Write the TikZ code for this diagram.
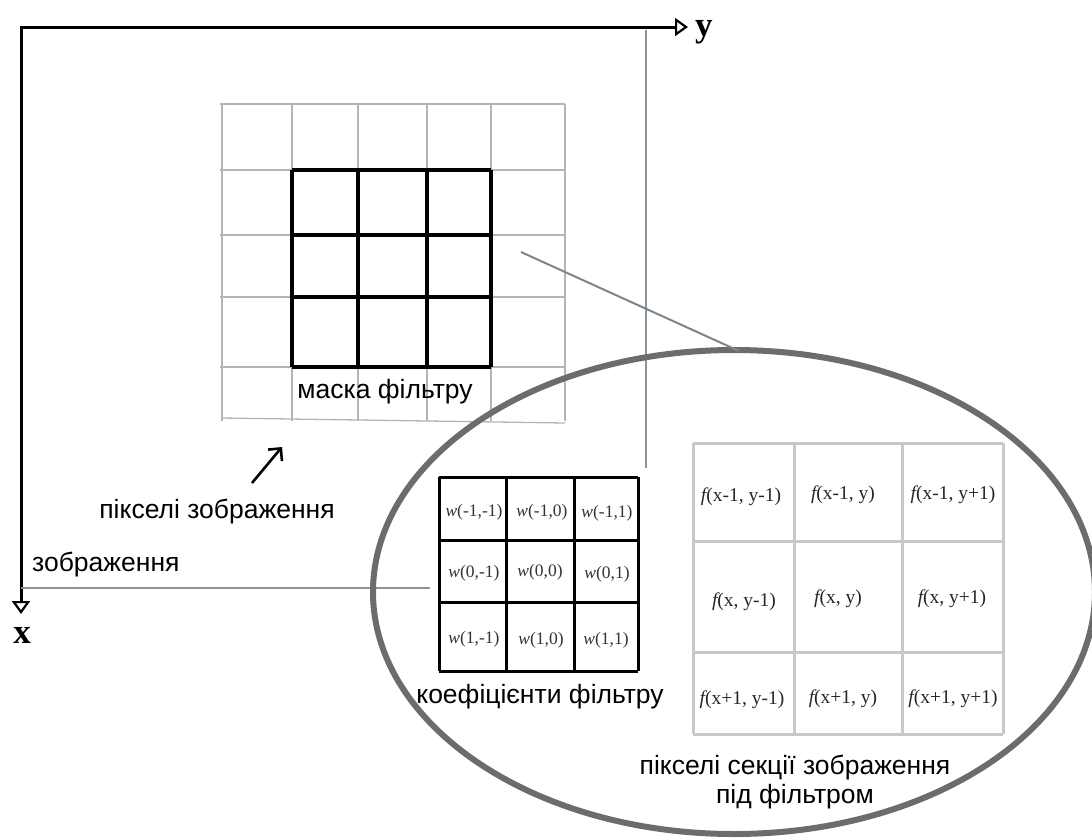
\documentclass[tikz,border=0pt]{standalone}
\usepackage{fontspec}
\setmainfont{Liberation Sans}
\newfontfamily\tms{Liberation Serif}
\usetikzlibrary{arrows.meta}
\definecolor{guidegray}{HTML}{8A949C}
\definecolor{thingrid}{HTML}{B4B4B4}
\definecolor{pixgrid}{HTML}{C8C8C8}
\definecolor{lensgray}{HTML}{6C6C6C}
\begin{document}
\begin{tikzpicture}[x=1pt,y=-1pt,
  lbl/.style={font=\fontsize{26.5}{29}\selectfont, inner sep=0pt, align=center},
  coef/.style={font=\tms\fontsize{17.5}{20}\selectfont, text=black!80, inner sep=0pt},
  fval/.style={font=\tms\fontsize{19.5}{22}\selectfont, text=black!85, inner sep=0pt},
  axislbl/.style={font=\tms\bfseries\fontsize{35}{36}\selectfont, inner sep=0pt},
  axisline/.style={line width=3pt, -{Triangle[open,length=13pt,width=18pt,line width=2.2pt]}},
  guide/.style={draw=guidegray, line width=2pt},
  thin/.style={draw=thingrid, line width=1.3pt},
  maskline/.style={draw=black, line width=3.5pt},
  coefline/.style={draw=black, line width=3pt},
  pixline/.style={draw=pixgrid, line width=3pt},
  lens/.style={draw=lensgray, line width=6pt}
]
\useasboundingbox (0,0) rectangle (1092,839);
\clip (0,0) rectangle (1092,839);

% axes
\coordinate (O) at (21,27);
\coordinate (yend) at (688,27);
\coordinate (xend) at (21,614);
\draw[axisline, line cap=rect] (O) -- (yend);
\draw[axisline] (O) -- (xend);
\node[axislbl, anchor=base west] (ylab) at (695,36) {y};
\node[axislbl, anchor=base] (xlab) at (22,643) {x};

% image pixel grid
\foreach \r in {104,170,235,297,367} \draw[thin] (220,\r) -- (565,\r);
\draw[thin] (222,418) -- (565,423);
\foreach \c in {222,292,358,427,491,565} \draw[thin] (\c,104) -- (\c,421);

% filter mask
\foreach \r in {170,235,297,367} \draw[maskline] (292,\r) -- (491,\r);
\foreach \c in {292,358,427,491} \draw[maskline] (\c,170) -- (\c,367);
\node[lbl] (masklbl) at (385,392) {маска фільтру};

% pointer to image pixels
\coordinate (ptail) at (252,483);
\coordinate (ptip) at (282,447);
\draw[line width=2.6pt, -{Straight Barb[length=9pt,width=18pt,line width=2.6pt]}] (ptail) -- (ptip);
\node[lbl] (pixlbl) at (217,512) {пікселі зображення};
\node[lbl, anchor=west] (imglbl) at (32,565) {зображення};

% guide lines
\coordinate (gv1) at (646,30);
\coordinate (gv2) at (646,468);
\draw[guide] (gv1) -- (gv2);
\coordinate (gh1) at (21,588);
\coordinate (gh2) at (430,588);
\draw[guide] (gh1) -- (gh2);

% magnifying lens
\draw[lens] (734,592) ellipse [x radius=361pt, y radius=242pt];
\coordinate (zoomfrom) at (521,252);
\coordinate (zoomto) at (739,351);
\draw[draw=guidegray!90!black, line width=2pt] (zoomfrom) -- (zoomto);

% filter coefficients
\foreach \r in {477,540,602,671} \draw[coefline] (439,\r) -- (638,\r);
\foreach \c in {439,506,574,638} \draw[coefline] (\c,477) -- (\c,671);
\node[coef] (w11) at (474,512) {{\itshape w}(-1,-1)};
\node[coef] (w12) at (542,512) {{\itshape w}(-1,0)};
\node[coef] (w13) at (607,513) {{\itshape w}(-1,1)};
\node[coef] (w21) at (474,573) {{\itshape w}(0,-1)};
\node[coef] (w22) at (540,572) {{\itshape w}(0,0)};
\node[coef] (w23) at (607,574) {{\itshape w}(0,1)};
\node[coef] (w31) at (474,639) {{\itshape w}(1,-1)};
\node[coef] (w32) at (541,640) {{\itshape w}(1,0)};
\node[coef] (w33) at (606,640) {{\itshape w}(1,1)};
\node[lbl] (coeflbl) at (540,697) {коефіцієнти фільтру};

% image section under the filter
\foreach \r in {443,541,652,734} \draw[pixline] (693,\r) -- (1003,\r);
\foreach \c in {693,794,902,1003} \draw[pixline] (\c,443) -- (\c,734);
\node[fval] (f11) at (741,497) {{\itshape f}(x-1, y-1)};
\node[fval] (f12) at (843,495) {{\itshape f}(x-1, y)};
\node[fval] (f13) at (953,495) {{\itshape f}(x-1, y+1)};
\node[fval] (f21) at (744,602) {{\itshape f}(x, y-1)};
\node[fval] (f22) at (838,599) {{\itshape f}(x, y)};
\node[fval] (f23) at (952,599) {{\itshape f}(x, y+1)};
\node[fval] (f31) at (742,700) {{\itshape f}(x+1, y-1)};
\node[fval] (f32) at (843,699) {{\itshape f}(x+1, y)};
\node[fval] (f33) at (953,699) {{\itshape f}(x+1, y+1)};
\node[lbl] (seclbl) at (795,782) {пікселі секції зображення\\під фільтром};
\end{tikzpicture}
\end{document}
